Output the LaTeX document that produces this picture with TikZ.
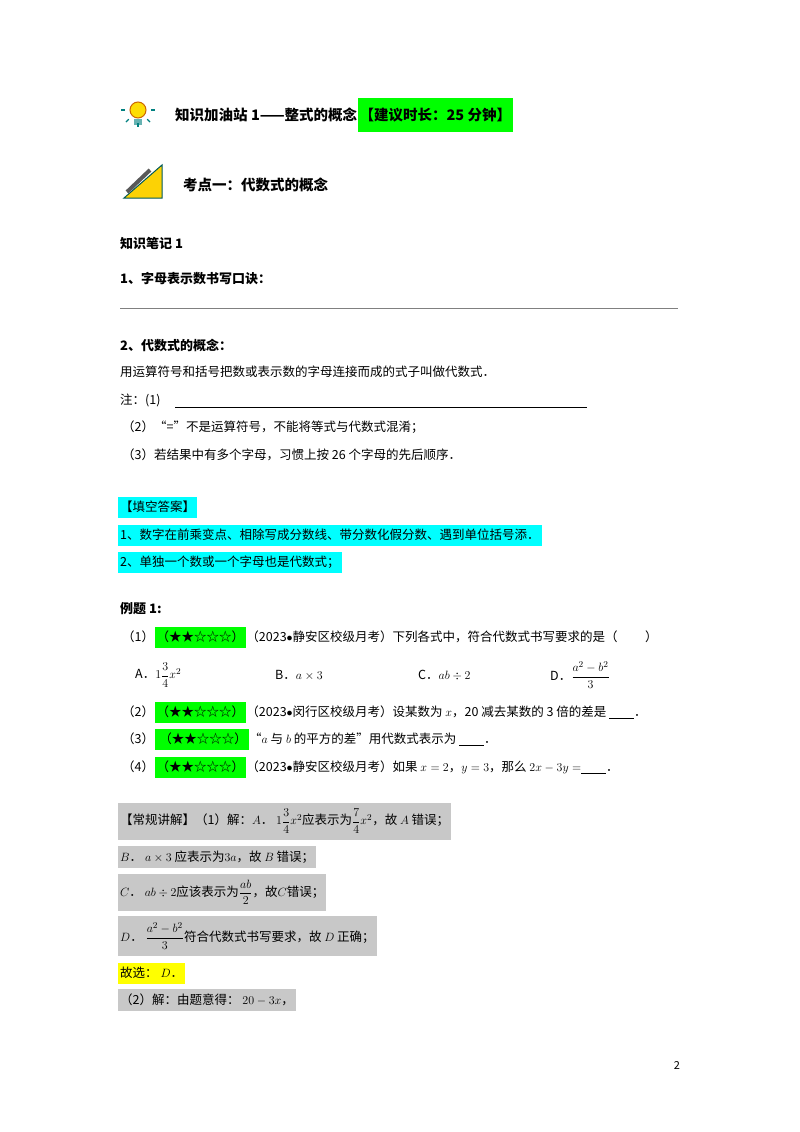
\documentclass[tikz,border=0pt]{standalone}
\usepackage{amsmath,amssymb}
\usepackage{fontspec}
\setmainfont{Noto Sans CJK SC}
\usepackage{xcolor}
\usetikzlibrary{positioning}
\definecolor{hlgreen}{RGB}{0,255,0}
\definecolor{hlcyan}{RGB}{0,255,255}
\definecolor{hlgray}{RGB}{200,200,200}
\definecolor{hlyellow}{RGB}{255,255,0}
\newcommand{\stars}{（★★☆☆☆）}
\begin{document}
\begin{tikzpicture}[x=1pt,y=-1pt,font=\fontsize{12.5}{15}\selectfont]
\tikzstyle{txt} = [anchor=west, inner sep=0pt]
\tikzstyle{bold} = [txt, font=\fontsize{13}{15}\selectfont\bfseries]
\tikzstyle{hilite} = [anchor=west, inner sep=2pt, minimum height=21pt]
\tikzstyle{grey} = [hilite, fill=hlgray, minimum height=22pt]
\useasboundingbox (0,0) rectangle (800,1132);

% header icons
\node [circle, draw=orange!80!black, fill=yellow!80!orange, line width=1pt, minimum size=16pt] (bulb) at (138,110) {};
\node [rectangle, fill=teal!60, minimum width=8pt, minimum height=6pt, below=0pt of bulb] (base) {};
\foreach \a in {0,45,...,180} \draw [teal, line width=1.2pt] (bulb.center) ++(-\a:13pt) -- ++(-\a:4pt);
\fill [yellow!70!orange] (124,198) -- (162,198) -- (162,165) -- cycle;
\draw [teal!70!black, line width=1pt] (124,198) -- (162,198) -- (162,165) -- cycle;
\draw [gray!70!black, line width=4pt] (127,192) -- (150,170);

% titles
\node [bold, font=\fontsize{14.5}{16}\selectfont\bfseries] (title) at (175,115) {知识加油站 1——整式的概念};
\node [hilite, fill=hlgreen, font=\fontsize{14.5}{16}\selectfont\bfseries, minimum height=34pt, right=0pt of title] (time) {【建议时长：25 分钟】};
\node [bold, font=\fontsize{14.5}{16}\selectfont\bfseries] (topic) at (183,185) {考点一：代数式的概念};

% notes
\node [bold] (note) at (120,243) {知识笔记 1};
\node [bold] (n1) at (120,279) {1、字母表示数书写口诀：};
\draw [gray] (120,308) -- (678,308);
\node [bold] (n2) at (120,345) {2、代数式的概念：};
\node [txt] (def) at (120,372) {用运算符号和括号把数或表示数的字母连接而成的式子叫做代数式．};
\node [txt] (z1) at (120,400) {注：(1)};
\draw (175,407) -- (587,407);
\node [txt] (z2) at (122,427) {（2）“=”不是运算符号，不能将等式与代数式混淆；};
\node [txt] (z3) at (122,455) {（3）若结果中有多个字母，习惯上按 26 个字母的先后顺序．};

% answers
\node [hilite, fill=hlcyan] (ans) at (118,507) {【填空答案】};
\node [hilite, fill=hlcyan] (a1) at (118,535) {1、数字在前乘变点、相除写成分数线、带分数化假分数、遇到单位括号添．};
\node [hilite, fill=hlcyan] (a2) at (118,562) {2、单独一个数或一个字母也是代数式；};

% examples
\node [bold] (ex) at (120,609) {例题 1:};
\node [txt] (q1) at (122,637) {（1）};
\node [hilite, fill=hlgreen, right=0pt of q1] (s1) {\stars};
\node [txt, right=0pt of s1] (q1t) {（2023$\bullet$静安区校级月考）下列各式中，符合代数式书写要求的是（\hspace{2.2em}）};
\node [txt] (oa) at (135,675) {A．$1\dfrac{3}{4}x^2$};
\node [txt] (ob) at (275,675) {B．$a\times3$};
\node [txt] (oc) at (418,675) {C．$ab\div2$};
\node [txt] (od) at (550,675) {D．$\dfrac{a^2-b^2}{3}$};
\node [txt] (q2) at (122,712) {（2）};
\node [hilite, fill=hlgreen, right=0pt of q2] (s2) {\stars};
\node [txt, right=0pt of s2] (q2t) {（2023$\bullet$闵行区校级月考）设某数为 $x$，20 减去某数的 3 倍的差是 \underline{\hspace{2em}}．};
\node [txt] (q3) at (122,739) {（3）};
\node [hilite, fill=hlgreen, right=0pt of q3] (s3) {\ \stars};
\node [txt, right=0pt of s3] (q3t) {“$a$ 与 $b$ 的平方的差”用代数式表示为 \underline{\hspace{2em}}．};
\node [txt] (q4) at (122,767) {（4）};
\node [hilite, fill=hlgreen, right=0pt of q4] (s4) {\stars};
\node [txt, right=0pt of s4] (q4t) {（2023$\bullet$静安区校级月考）如果 $x=2$，$y=3$，那么 $2x-3y=$\underline{\hspace{2em}}．};

% solution
\node [grey, minimum height=37pt] (g1) at (118,821) {【常规讲解】（1）解：$A$． $1\dfrac{3}{4}x^2$应表示为$\dfrac{7}{4}x^2$，故 $A$ 错误；};
\node [grey] (g2) at (118,857) {$B$． $a\times3$ 应表示为$3a$，故 $B$ 错误；};
\node [grey, minimum height=37pt] (g3) at (118,892) {$C$． $ab\div2$应该表示为$\dfrac{ab}{2}$，故$C$错误；};
\node [grey, minimum height=40pt] (g4) at (118,936) {$D$． $\dfrac{a^2-b^2}{3}$符合代数式书写要求，故 $D$ 正确；};
\node [hilite, fill=hlyellow] (g5) at (118,973) {故选： $D$．};
\node [grey] (g6) at (118,1000) {（2）解：由题意得： $20-3x$，};

\node [inner sep=0pt, font=\fontsize{11}{13}\selectfont] (page) at (677,1065) {2};
\end{tikzpicture}
\end{document}
